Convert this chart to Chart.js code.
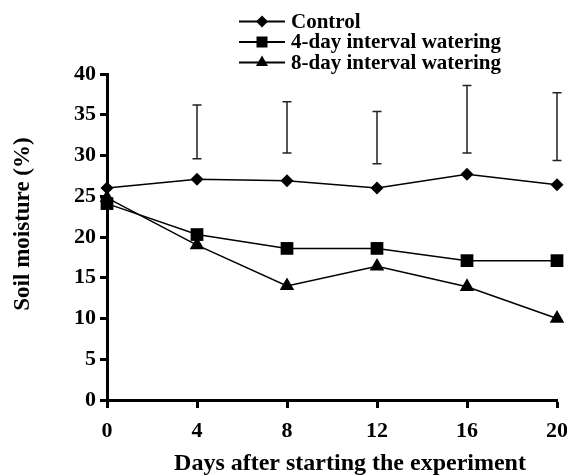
<!DOCTYPE html>
<html>
<head>
<meta charset="utf-8">
<script src="https://cdn.jsdelivr.net/npm/chart.js@4"></script>
<style>
  html, body { margin: 0; padding: 0; background: #fff; }
  #wrap { width: 567px; height: 475px; }
</style>
</head>
<body>
<div id="wrap"><canvas id="soil-chart" width="567" height="475"></canvas></div>
<script>
// days after start
const days = [0, 4, 8, 12, 16, 20];
const controlValues = [26.0, 27.1, 26.9, 26.0, 27.7, 26.4];
const interval4Values = [24.1, 20.3, 18.6, 18.6, 17.1, 17.1];
const interval8Values = [24.8, 19.0, 14.0, 16.4, 13.9, 10.0];

// floating error bars above the curves
const errDays = [4, 8, 12, 16, 20];
const errLow = [29.6, 30.3, 29.0, 30.3, 29.4];
const errHigh = [36.2, 36.6, 35.4, 38.6, 37.7];

const yTicks = [0, 5, 10, 15, 20, 25, 30, 35, 40];
const xTicks = [0, 4, 8, 12, 16, 20];

const seriesNames = ["Control", "4-day interval watering", "8-day interval watering"];
const seriesMarkers = ["rectRot", "rect", "triangle"];

const FONT = "'Liberation Serif', 'Times New Roman', serif";

function toPoints(values) {
  return days.map((d, i) => ({ x: d, y: values[i] }));
}

function drawMarker(ctx, style, x, y, r) {
  ctx.beginPath();
  if (style === "rectRot") {
    ctx.moveTo(x, y - r);
    ctx.lineTo(x + r, y);
    ctx.lineTo(x, y + r);
    ctx.lineTo(x - r, y);
  } else if (style === "rect") {
    ctx.rect(x - r, y - r, 2 * r, 2 * r);
  } else {
    ctx.moveTo(x, y - r);
    ctx.lineTo(x + r * 0.866, y + r / 2);
    ctx.lineTo(x - r * 0.866, y + r / 2);
  }
  ctx.closePath();
  ctx.fill();
}

const errorBars = {
  id: "errorBars",
  afterDatasetsDraw(chart) {
    const { ctx, scales } = chart;
    ctx.save();
    ctx.strokeStyle = "#222";
    ctx.lineWidth = 1.5;
    errDays.forEach((d, i) => {
      const x = scales.x.getPixelForValue(d);
      const yl = scales.y.getPixelForValue(errLow[i]);
      const yh = scales.y.getPixelForValue(errHigh[i]);
      ctx.beginPath();
      ctx.moveTo(x, yl);
      ctx.lineTo(x, yh);
      ctx.moveTo(x - 4.5, yl);
      ctx.lineTo(x + 4.5, yl);
      ctx.moveTo(x - 4.5, yh);
      ctx.lineTo(x + 4.5, yh);
      ctx.stroke();
    });
    ctx.restore();
  },
};

const legendAndTitles = {
  id: "legendAndTitles",
  afterDraw(chart) {
    const { ctx } = chart;
    ctx.save();
    ctx.fillStyle = "#000";
    ctx.strokeStyle = "#000";

    // legend, top centre
    const rows = [21.5, 42, 62.5];
    const markerSize = [6, 5.5, 7];
    ctx.font = "bold 21px " + FONT;
    ctx.textBaseline = "middle";
    ctx.textAlign = "left";
    seriesNames.forEach((name, i) => {
      const y = rows[i];
      ctx.lineWidth = 2;
      ctx.beginPath();
      ctx.moveTo(239, y);
      ctx.lineTo(285, y);
      ctx.stroke();
      drawMarker(ctx, seriesMarkers[i], 262, y, markerSize[i]);
      ctx.fillText(name, 291, y + 1);
    });

    // axis titles
    ctx.font = "bold 24px " + FONT;
    ctx.textAlign = "center";
    ctx.fillText("Days after starting the experiment", 350, 464);

    ctx.translate(23, 224);
    ctx.rotate(-Math.PI / 2);
    ctx.font = "bold 23px " + FONT;
    ctx.fillText("Soil moisture (%)", 0, 0);
    ctx.restore();
  },
};

const lineStyle = {
  borderColor: "#000",
  backgroundColor: "#000",
  pointBackgroundColor: "#000",
  pointBorderColor: "#000",
  borderWidth: 1.5,
  tension: 0,
  clip: false,
  pointBorderWidth: 0,
};

new Chart(document.getElementById("soil-chart"), {
  type: "line",
  data: {
    datasets: [
      {
        label: seriesNames[0],
        data: toPoints(controlValues),
        pointStyle: seriesMarkers[0],
        pointRadius: 6.5,
        ...lineStyle,
      },
      {
        label: seriesNames[1],
        data: toPoints(interval4Values),
        pointStyle: seriesMarkers[1],
        pointRadius: 9,
        ...lineStyle,
      },
      {
        label: seriesNames[2],
        data: toPoints(interval8Values),
        pointStyle: seriesMarkers[2],
        pointRadius: 8.4,
        ...lineStyle,
      },
    ],
  },
  options: {
    responsive: false,
    animation: false,
    layout: {
      autoPadding: false,
      padding: { top: 74, right: 10, left: 0, bottom: 0 },
    },
    plugins: {
      legend: { display: false },
      tooltip: { enabled: false },
    },
    scales: {
      x: {
        type: "linear",
        min: 0,
        max: 20,
        afterFit: (scale) => {
          scale.height = 75;
          scale.paddingLeft = 0;
          scale.paddingRight = 0;
        },
        afterBuildTicks: (scale) => { scale.ticks = xTicks.map((v) => ({ value: v })); },
        grid: {
          drawOnChartArea: false,
          drawTicks: true,
          tickLength: 8,
          tickWidth: 3,
          tickColor: "#000",
        },
        border: { display: true, color: "#000", width: 3 },
        ticks: {
          color: "#000",
          padding: 10,
          font: { family: FONT, size: 22, weight: "bold" },
        },
      },
      y: {
        min: 0,
        max: 40,
        afterFit: (scale) => {
          scale.width = 107;
          scale.paddingTop = 0;
          scale.paddingBottom = 0;
        },
        afterBuildTicks: (scale) => { scale.ticks = yTicks.map((v) => ({ value: v })); },
        grid: {
          drawOnChartArea: false,
          drawTicks: true,
          tickLength: 7,
          tickWidth: 3,
          tickColor: "#000",
        },
        border: { display: true, color: "#000", width: 3 },
        ticks: {
          color: "#000",
          padding: 4,
          font: { family: FONT, size: 22, weight: "bold" },
        },
      },
    },
  },
  plugins: [errorBars, legendAndTitles],
});
</script>
</body>
</html>
